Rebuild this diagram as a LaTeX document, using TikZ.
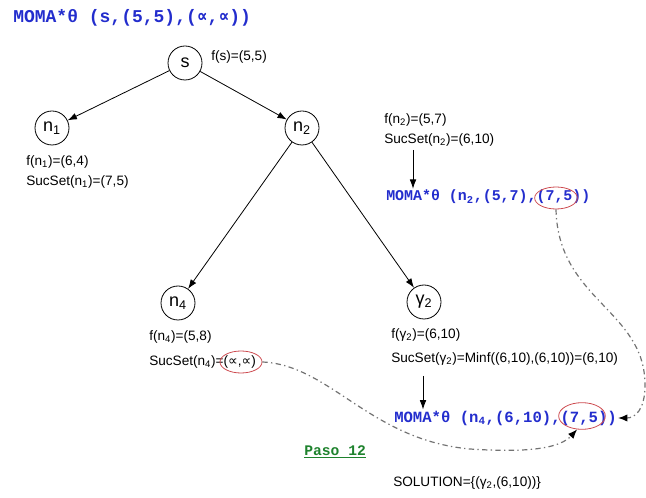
\documentclass[tikz,border=0pt]{standalone}
\usepackage{fontspec}
\setmainfont{Liberation Sans}
\setmonofont{Liberation Mono}
\newfontfamily\symsans{DejaVu Sans}
\newfontfamily\symmono{DejaVu Sans Mono}
\usetikzlibrary{arrows.meta,shapes.geometric}
\definecolor{momablue}{RGB}{35,45,205}
\definecolor{markred}{RGB}{205,75,80}
\definecolor{pasogreen}{RGB}{30,130,45}
\definecolor{traceGrey}{RGB}{115,115,115}
\newcommand{\propsans}{{\symsans ∝}}
\newcommand{\propmono}{{\symmono ∝}}
\tikzset{
  state/.style={draw, circle, minimum size=25.5pt, inner sep=0pt, line width=0.6pt, font=\fontsize{13.5}{16}\selectfont},
  info/.style={anchor=west, inner sep=0.75pt, font=\fontsize{10.2}{12}\selectfont},
  moma/.style={anchor=west, inner sep=0.75pt, text=momablue, font=\fontsize{11.2}{13}\selectfont\ttfamily\bfseries},
  redmark/.style={draw=markred, ellipse, inner sep=0pt, line width=0.6pt},
  tree/.style={line width=0.6pt, -{Latex[length=7pt,width=5pt]}},
  trace/.style={draw=traceGrey, line width=0.9pt, dash pattern=on 4pt off 2.5pt on 1pt off 2.5pt, -{Latex[black,length=7pt,width=5.5pt]}}
}
\begin{document}
\begin{tikzpicture}[x=0.75pt,y=0.75pt,yscale=-1,xscale=1]
\useasboundingbox (0,0) rectangle (646,498);

% States
\node [state] (s) at (185,63) {s};
\node [state] (n1) at (52,128) {n\textsubscript{1}};
\node [state] (n2) at (302,128) {n\textsubscript{2}};
\node [state] (n4) at (178,303) {n\textsubscript{4}};
\node [state] (g2) at (424,302) {γ\textsubscript{2}};

% Tree edges
\draw [tree] (s) -- (n1);
\draw [tree] (s) -- (n2);
\draw [tree] (n2) -- (n4);
\draw [tree] (n2) -- (g2);

% Text Node
\draw (12,18) node [moma, font=\fontsize{13.5}{16}\selectfont\ttfamily\bfseries] (m0) {MOMA*θ (s,(5,5),(\propmono,\propmono))};
% Text Node
\draw (210,57) node [info] (fs) {f(s)=(5,5)};
% Text Node
\draw (25,162) node [info] (fn1) {f(n\textsubscript{1})=(6,4)};
% Text Node
\draw (25,182) node [info] (sn1) {SucSet(n\textsubscript{1})=(7,5)};
% Text Node
\draw (383,120) node [info] (fn2) {f(n\textsubscript{2})=(5,7)};
% Text Node
\draw (383,140) node [info] (sn2) {SucSet(n\textsubscript{2})=(6,10)};
% Text Node
\draw (385,197) node [moma] (m2) {MOMA*θ (n\textsubscript{2},(5,7),(7,5))};
% Text Node
\draw (148,337) node [info] (fn4) {f(n\textsubscript{4})=(5,8)};
% Text Node
\draw (148,362) node [info] (sn4) {SucSet(n\textsubscript{4})=(\propsans,\propsans)};
% Text Node
\draw (390,335) node [info] (fg2) {f(γ\textsubscript{2})=(6,10)};
% Text Node
\draw (390,359) node [info] (sg2) {SucSet(γ\textsubscript{2})=Minf((6,10),(6,10))=(6,10)};
% Text Node
\draw (393,418) node [moma, font=\fontsize{11.7}{14}\selectfont\ttfamily\bfseries] (m4) {MOMA*θ (n\textsubscript{4},(6,10),(7,5))};
% Text Node
\draw (303,452) node [anchor=west, inner sep=0.75pt, text=pasogreen, font=\fontsize{11}{13}\selectfont\ttfamily\bfseries] (paso) {\underline{Paso 12}};
% Text Node
\draw (392,483) node [info] (sol) {SOLUTION=\{(γ\textsubscript{2},(6,10))\}};

% Marks
\node [redmark, minimum width=32pt, minimum height=16.5pt] (e1) at (556,198) {};
\node [redmark, minimum width=31.5pt, minimum height=16.5pt] (e2) at (241,362) {};
\node [redmark, minimum width=35pt, minimum height=20pt] (e3) at (582,416) {};

% Step arrows
\coordinate (a1) at (413,150);
\draw [tree] (a1) -- (a1 |- m2.north);
\coordinate (a2) at (423,376);
\draw [tree] (a2) -- (a2 |- m4.north);

% Traces
\draw [trace] (e1.south) .. controls (558,300) and (645,310) .. (645,385) .. controls (645,410) and (635,418) .. (m4.east);
\draw [trace] (e2.east) .. controls (330,365) and (370,440) .. (470,449) .. controls (530,453) and (560,448) .. (e3.250);

\end{tikzpicture}
\end{document}
